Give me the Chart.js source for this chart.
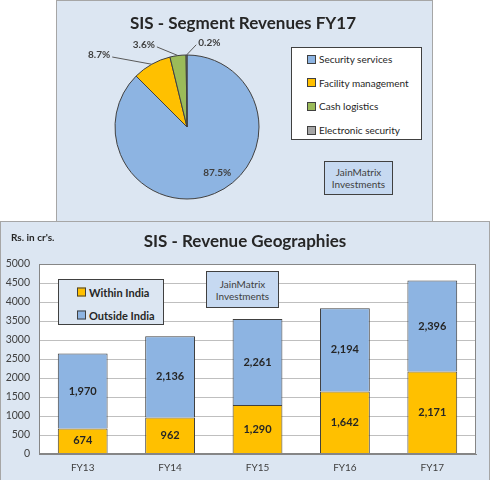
<!DOCTYPE html>
<html>
<head>
<meta charset="utf-8">
<script src="https://cdn.jsdelivr.net/npm/chart.js@4"></script>
<style>
  html, body { margin: 0; padding: 0; background: #fff; }
  body { width: 490px; height: 480px; position: relative; overflow: hidden; font-family: Lato, "Liberation Sans", sans-serif; color: #262626; }
  .abs { position: absolute; }
  .panel { background: #dce6f2; border: 1px solid #a6a6a6; box-sizing: border-box; }
  .title { font-weight: bold; white-space: nowrap; transform: translate(-50%, -50%); }
  .legend { border: 1px solid #404040; box-sizing: border-box; }
  .item { position: absolute; display: flex; align-items: center; white-space: nowrap; transform: translateY(-50%); }
  .sw { width: 7px; height: 7px; border: 1px solid #404040; margin-right: 3px; }
  .mark { background: #c6d9f1; border: 1px solid #404040; box-sizing: border-box; display: flex; flex-direction: column; justify-content: center; align-items: center; font-size: 10px; line-height: 12px; color: #404040; }
</style>
</head>
<body>
<!-- top panel: pie -->
<div class="abs panel" style="left:56px; top:0px; width:377px; height:222px;"></div>
<canvas id="pieChart" class="abs" width="376" height="222" style="left:56px; top:0px;"></canvas>
<div class="abs title" style="left:243px; top:22px; font-size:17px;">SIS - Segment Revenues FY17</div>
<div id="pieLegend" class="abs legend" style="left:291px; top:47px; width:131px; height:93px; background:#fff;"></div>
<div class="abs mark" style="left:324px; top:161px; width:69px; height:34px;"><span>JainMatrix</span><span>Investments</span></div>

<!-- bottom panel: stacked bars -->
<div class="abs panel" style="left:0px; top:221px; width:490px; height:260px;"></div>
<canvas id="barChart" class="abs" width="490" height="258" style="left:0px; top:222px;"></canvas>
<div class="abs title" style="left:245px; top:240px; font-size:17px;">SIS - Revenue Geographies</div>
<div class="abs" style="left:11px; top:231px; font-size:10px; font-weight:bold;">Rs. in cr's.</div>
<div id="barLegend" class="abs legend" style="left:58px; top:279px; width:106px; height:46px; background:#dce6f2;"></div>
<div class="abs mark" style="left:206px; top:271px; width:73px; height:37px;"><span>JainMatrix</span><span>Investments</span></div>

<script>
// Segment revenues FY17 (share, %)
const segments = ['Security services', 'Facility management', 'Cash logistics', 'Electronic security'];
const segmentShare = [87.5, 8.7, 3.6, 0.2];
const segmentColors = ['#8db4e2', '#ffc000', '#9bbb59', '#a6a6a6'];

// Revenue geographies (Rs. in cr's.)
const years = ['FY13', 'FY14', 'FY15', 'FY16', 'FY17'];
const withinIndia = [674, 962, 1290, 1642, 2171];
const outsideIndia = [1970, 2136, 2261, 2194, 2396];
const yTicks = [0, 500, 1000, 1500, 2000, 2500, 3000, 3500, 4000, 4500, 5000];

const FONT = 'Lato, "Liberation Sans", sans-serif';
Chart.defaults.font.family = FONT;

// label placement around the pie, in units of the radius (dx, dy) from centre
const pieLabelPlace = [[0.42, 0.63], [-1.22, -1.0], [-0.6, -1.14], [0.31, -1.17]];

// legends (html, built from the data arrays)
function buildLegend(el, names, colors, opts) {
  names.forEach((n, i) => {
    const d = document.createElement('div');
    d.className = 'item';
    d.style.left = opts.left + 'px';
    d.style.top = (opts.top + i * opts.step) + 'px';
    d.style.fontSize = opts.size + 'px';
    if (opts.bold) d.style.fontWeight = 'bold';
    d.innerHTML = '<span class="sw" style="background:' + colors[i] + '"></span><span>' + n + '</span>';
    el.appendChild(d);
  });
}
buildLegend(document.getElementById('pieLegend'), segments, segmentColors,
  { left: 15, top: 11, step: 23.7, size: 10 });
buildLegend(document.getElementById('barLegend'), ['Within India', 'Outside India'], ['#ffc000', '#8db4e2'],
  { left: 18, top: 12, step: 23, size: 11, bold: true });

const pieLabels = {
  id: 'pieLabels',
  afterDatasetsDraw(chart) {
    const ctx = chart.ctx;
    const arcs = chart.getDatasetMeta(0).data;
    ctx.save();
    ctx.font = 'bold 10px ' + FONT;
    ctx.fillStyle = '#404040';
    ctx.textBaseline = 'middle';
    arcs.forEach((arc, i) => {
      const r = arc.outerRadius;
      const lx = arc.x + pieLabelPlace[i][0] * r;
      const ly = arc.y + pieLabelPlace[i][1] * r;
      const txt = segmentShare[i].toFixed(1) + '%';
      const w = ctx.measureText(txt).width;
      ctx.textAlign = 'center';
      ctx.fillText(txt, lx, ly);
      if (i > 0) {
        const mid = (arc.startAngle + arc.endAngle) / 2;
        const ex = arc.x + Math.cos(mid) * r;
        const ey = arc.y + Math.sin(mid) * r;
        const sx = ex > lx ? lx + w / 2 + 2 : lx - w / 2 - 2;
        ctx.strokeStyle = '#595959';
        ctx.lineWidth = 1;
        ctx.beginPath();
        ctx.moveTo(sx, ly + 2);
        ctx.lineTo(ex, ey);
        ctx.stroke();
      }
    });
    ctx.restore();
  }
};

new Chart(document.getElementById('pieChart'), {
  type: 'pie',
  data: {
    labels: segments,
    datasets: [{
      data: segmentShare,
      backgroundColor: segmentColors,
      borderColor: '#404040',
      borderWidth: 1
    }]
  },
  options: {
    responsive: false,
    animation: false,
    layout: { padding: { left: 58.5, top: 54.5, right: 172.5, bottom: 22.5 } },
    plugins: { legend: { display: false }, tooltip: { enabled: false }, title: { display: false } }
  },
  plugins: [pieLabels]
});

const plotFrame = {
  id: 'plotFrame',
  beforeDraw(chart) {
    const a = chart.chartArea, ctx = chart.ctx;
    ctx.save();
    ctx.fillStyle = '#ffffff';
    ctx.fillRect(a.left, a.top, a.width, a.height);
    ctx.restore();
  },
  afterDraw(chart) {
    const a = chart.chartArea, ctx = chart.ctx;
    ctx.save();
    ctx.strokeStyle = '#868686';
    ctx.lineWidth = 1;
    ctx.strokeRect(a.left + 0.5, a.top + 0.5, a.width - 1, a.height - 1);
    ctx.restore();
  }
};

const barLabels = {
  id: 'barLabels',
  afterDatasetsDraw(chart) {
    const ctx = chart.ctx;
    ctx.save();
    ctx.font = 'bold 11px ' + FONT;
    ctx.fillStyle = '#262626';
    ctx.textAlign = 'center';
    ctx.textBaseline = 'middle';
    chart.data.datasets.forEach((ds, di) => {
      chart.getDatasetMeta(di).data.forEach((bar, i) => {
        ctx.fillText(ds.data[i].toLocaleString('en-US'), bar.x, (bar.y + bar.base) / 2);
      });
    });
    ctx.restore();
  }
};

new Chart(document.getElementById('barChart'), {
  type: 'bar',
  data: {
    labels: years,
    datasets: [
      { label: 'Within India', data: withinIndia, backgroundColor: '#ffc000', borderColor: '#404040', borderWidth: 1 },
      { label: 'Outside India', data: outsideIndia, backgroundColor: '#8db4e2', borderColor: '#404040', borderWidth: 1 }
    ]
  },
  options: {
    responsive: false,
    animation: false,
    layout: { padding: { left: 0, top: 42, right: 14, bottom: 0 } },
    datasets: { bar: { barPercentage: 0.57, categoryPercentage: 1 } },
    scales: {
      x: {
        stacked: true,
        grid: { display: false, drawTicks: false },
        border: { color: '#868686' },
        ticks: { color: '#404040', font: { size: 10 }, padding: 8 },
        afterFit(axis) { axis.height = 26; }
      },
      y: {
        stacked: true,
        min: 0,
        max: 5000,
        afterBuildTicks(axis) { axis.ticks = yTicks.map(v => ({ value: v })); },
        grid: { color: '#bfbfbf', drawTicks: false },
        border: { color: '#868686' },
        ticks: { color: '#404040', font: { size: 10.5 }, padding: 9, callback: v => String(v) },
        afterFit(axis) { axis.width = 39; }
      }
    },
    plugins: { legend: { display: false }, tooltip: { enabled: false }, title: { display: false } }
  },
  plugins: [plotFrame, barLabels]
});
</script>
</body>
</html>
